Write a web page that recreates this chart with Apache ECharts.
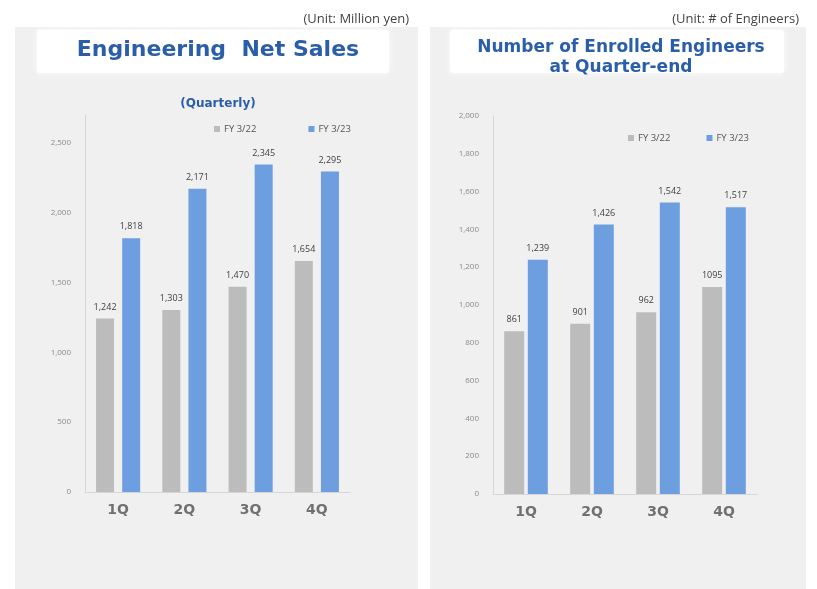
<!DOCTYPE html>
<html>
<head>
<meta charset="utf-8">
<script src="https://cdn.jsdelivr.net/npm/echarts@6/dist/echarts.min.js"></script>
<style>
  html, body { margin: 0; padding: 0; background: #ffffff; }
  #chart { width: 817px; height: 589px; }
</style>
</head>
<body>
<div id="chart"></div>
<script>
// Quarter categories shared by both panels
const quarters = ['1Q', '2Q', '3Q', '4Q'];
const seriesNames = ['FY 3/22', 'FY 3/23'];

// Engineering net sales (million yen)
const salesFY22 = [1242, 1303, 1470, 1654];
const salesFY23 = [1818, 2171, 2345, 2295];

// Enrolled engineers at quarter-end (persons)
const engFY22 = [861, 901, 962, 1095];
const engFY23 = [1239, 1426, 1542, 1517];

const GRAY = '#bcbcbc';
const BLUE = '#6d9fe0';
const TITLE_BLUE = '#2b5ea9';
const FONT = '"Open Sans", "DejaVu Sans", sans-serif';
const HEAD_FONT = '"DejaVu Sans", Verdana, sans-serif';

const chart = echarts.init(document.getElementById('chart'), null, { renderer: 'canvas' });

function fmt(v) { return v.toLocaleString('en-US'); }

function labelCfg(formatter) {
  return {
    show: true,
    position: 'top',
    distance: 7,
    fontSize: 9,
    fontFamily: FONT,
    color: '#404040',
    formatter: formatter
  };
}

function valueAxis(gridIndex, max, interval) {
  return {
    type: 'value',
    gridIndex: gridIndex,
    min: 0,
    max: max,
    interval: interval,
    axisLine: { show: true, lineStyle: { color: '#d6d6d6', width: 1 } },
    axisTick: { show: false },
    splitLine: { show: false },
    axisLabel: {
      fontSize: 8,
      color: '#8a8a8a',
      fontFamily: FONT,
      margin: 14,
      showMaxLabel: max % interval === 0,
      formatter: v => fmt(v)
    }
  };
}

function categoryAxis(gridIndex) {
  return {
    type: 'category',
    gridIndex: gridIndex,
    data: quarters,
    axisLine: { show: true, lineStyle: { color: '#d6d6d6', width: 1 } },
    axisTick: { show: false },
    axisLabel: {
      fontSize: 14,
      fontWeight: 'bold',
      color: '#707070',
      fontFamily: HEAD_FONT,
      margin: 11
    }
  };
}

const legendText = { fontSize: 9.5, color: '#555', fontFamily: FONT, padding: [0, 0, 0, -1] };

const option = {
  backgroundColor: '#ffffff',
  animation: false,
  graphic: [
    // Panel backgrounds
    { type: 'rect', shape: { x: 15, y: 27, width: 403, height: 562 }, style: { fill: '#f0f0f0' }, z: -10 },
    { type: 'rect', shape: { x: 430, y: 27, width: 376, height: 562 }, style: { fill: '#f0f0f0' }, z: -10 },
    // White title plates
    { type: 'rect', shape: { x: 37, y: 30, width: 352, height: 43, r: 3 },
      style: { fill: '#ffffff', shadowBlur: 6, shadowColor: 'rgba(255,255,255,0.9)' }, z: -5 },
    { type: 'rect', shape: { x: 450, y: 30, width: 334, height: 43, r: 3 },
      style: { fill: '#ffffff', shadowBlur: 6, shadowColor: 'rgba(255,255,255,0.9)' }, z: -5 }
  ],
  title: [
    { text: '(Unit: Million yen)', right: 403, top: 8,
      textStyle: { fontSize: 13, fontWeight: 'normal', color: '#444', fontFamily: FONT } },
    { text: 'Engineering  Net Sales', left: 213, top: 34, textAlign: 'center',
      textStyle: { fontSize: 22, fontWeight: 'bold', color: TITLE_BLUE, fontFamily: HEAD_FONT } },
    { text: '(Quarterly)', left: 213, top: 93, textAlign: 'center',
      textStyle: { fontSize: 12, fontWeight: 'bold', color: TITLE_BLUE, fontFamily: HEAD_FONT } },
    { text: '(Unit: # of Engineers)', right: 13, top: 8,
      textStyle: { fontSize: 13, fontWeight: 'normal', color: '#444', fontFamily: FONT } },
    { text: 'Number of Enrolled Engineers\nat Quarter-end', left: 616, top: 33, textAlign: 'center',
      textStyle: { fontSize: 17, fontWeight: 'bold', color: TITLE_BLUE, fontFamily: HEAD_FONT, lineHeight: 20 } }
  ],
  legend: [
    { data: seriesNames, left: 209, top: 119, itemWidth: 6, itemHeight: 6, itemGap: 52,
      icon: 'rect', textStyle: legendText },
    { data: seriesNames, left: 623, top: 128, itemWidth: 6, itemHeight: 6, itemGap: 36,
      icon: 'rect', textStyle: legendText }
  ],
  grid: [
    { left: 85, top: 115, width: 265, height: 377 },
    { left: 493, top: 116, width: 264, height: 378 }
  ],
  xAxis: [categoryAxis(0), categoryAxis(1)],
  yAxis: [valueAxis(0, 2700, 500), valueAxis(1, 2000, 200)],
  series: [
    { name: seriesNames[0], type: 'bar', xAxisIndex: 0, yAxisIndex: 0, data: salesFY22,
      barWidth: 18, barGap: '45%', itemStyle: { color: GRAY },
      label: labelCfg(p => fmt(p.value)) },
    { name: seriesNames[1], type: 'bar', xAxisIndex: 0, yAxisIndex: 0, data: salesFY23,
      barWidth: 18, barGap: '45%', itemStyle: { color: BLUE },
      label: labelCfg(p => fmt(p.value)) },
    { name: seriesNames[0], type: 'bar', xAxisIndex: 1, yAxisIndex: 1, data: engFY22,
      barWidth: 20, barGap: '18%', itemStyle: { color: GRAY },
      // the 4Q figure is printed without a thousands separator
      label: labelCfg(p => String(p.value)) },
    { name: seriesNames[1], type: 'bar', xAxisIndex: 1, yAxisIndex: 1, data: engFY23,
      barWidth: 20, barGap: '18%', itemStyle: { color: BLUE },
      label: labelCfg(p => fmt(p.value)) }
  ]
};

chart.setOption(option);
</script>
</body>
</html>
